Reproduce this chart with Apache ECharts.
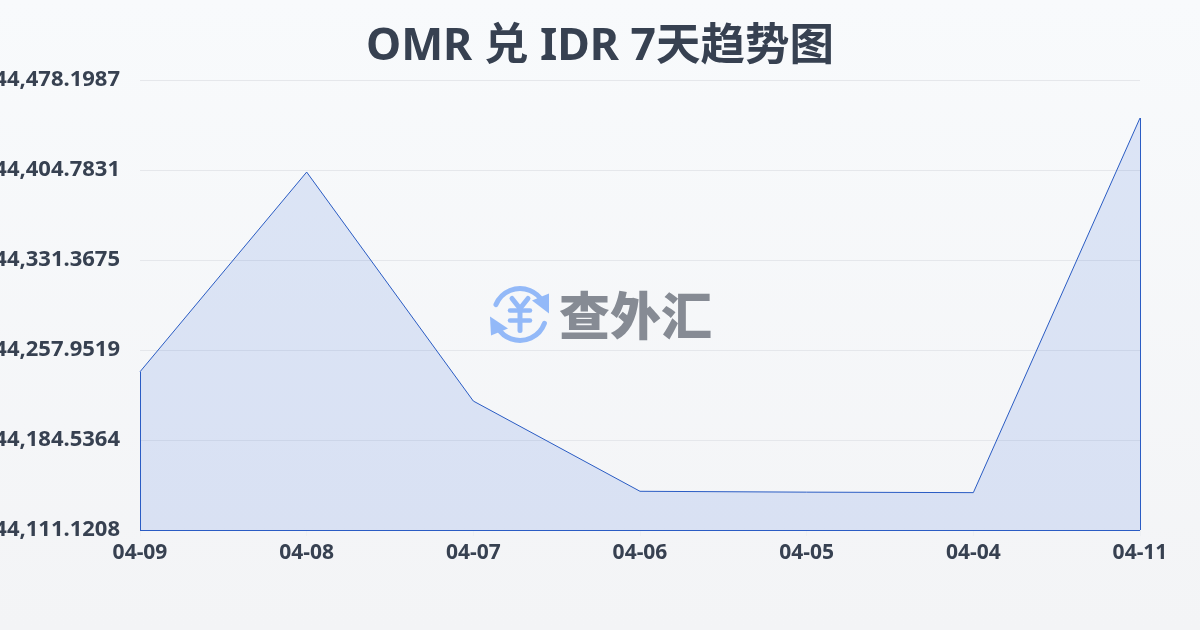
<!DOCTYPE html>
<html><head><meta charset="utf-8">
<style>html,body{margin:0;padding:0;background:#f5f7fa}#c{width:1200px;height:630px}</style>
<script src="https://cdn.jsdelivr.net/npm/echarts@6/dist/echarts.min.js"></script>
</head><body><div id="c"></div>
<script>
const categories = ['04-09','04-08','04-07','04-06','04-05','04-04','04-11'];
const rates = [44240.2, 44403.1, 44216.3, 44142.7, 44142.0, 44141.6, 44447.2];
const yTicks = [44111.1208, 44184.5364, 44257.9519, 44331.3675, 44404.7831, 44478.1987];
const titleText = 'OMR 兑 IDR 7天趋势图';
const brandText = '查外汇';
const FONT = '"Noto Sans","Noto Sans CJK SC",sans-serif';
const yMin = yTicks[0], yMax = yTicks[yTicks.length-1];
const chart = echarts.init(document.getElementById('c'), null, {renderer:'canvas'});
const blue = '#93b9f8';
chart.setOption({
  animation:false,
  backgroundColor:{type:'linear',x:0,y:0,x2:0,y2:1,colorStops:[{offset:0,color:'#f8fafc'},{offset:1,color:'#f3f4f6'}]},
  title:{text:titleText,left:'center',top:20,textStyle:{fontFamily:FONT,fontSize:44.5,fontWeight:'bold',color:'#374151'}},
  grid:{left:140,right:60,top:80,bottom:100,containLabel:false,outerBoundsMode:'none'},
  xAxis:{type:'category',boundaryGap:false,data:categories,
    axisLine:{show:false},
    axisTick:{show:true,length:6,lineStyle:{color:'#eef0f3'}},
    axisLabel:{fontFamily:FONT,fontSize:21,fontWeight:'bold',color:'#374151',margin:13,interval:0}},
  yAxis:{type:'value',min:yMin,max:yMax,
    axisLine:{show:false},
    axisTick:{show:false,customValues:yTicks},
    splitLine:{show:true,lineStyle:{color:'#e5e7eb',width:1}},
    axisLabel:{customValues:yTicks,fontFamily:FONT,fontSize:22,fontWeight:'bold',color:'#374151',margin:20,
      formatter:v=>v.toLocaleString('en-US',{minimumFractionDigits:4,maximumFractionDigits:4})}},
  graphic:{elements:[
    {type:'group',left:490,top:286,silent:true,z:50,children:[
      {type:'arc',shape:{cx:30,cy:29,r:26,startAngle:-2.75,endAngle:-0.55},style:{stroke:blue,lineWidth:5,fill:null,lineCap:'round'}},
      {type:'arc',shape:{cx:30,cy:29,r:26,startAngle:0.35,endAngle:2.6},style:{stroke:blue,lineWidth:5,fill:null,lineCap:'round'}},
      {type:'polygon',shape:{points:[[42,15],[59,8],[59,28]]},style:{fill:blue}},
      {type:'polygon',shape:{points:[[0,31],[18,43],[1,50]]},style:{fill:blue}},
      {type:'polyline',shape:{points:[[22,13],[30,23],[38,13]]},style:{stroke:blue,lineWidth:5,fill:null,lineCap:'round'}},
      {type:'line',shape:{x1:20,y1:25,x2:40,y2:25},style:{stroke:blue,lineWidth:4.5,lineCap:'round'}},
      {type:'line',shape:{x1:20,y1:35,x2:40,y2:35},style:{stroke:blue,lineWidth:4.5,lineCap:'round'}},
      {type:'line',shape:{x1:30,y1:24,x2:30,y2:45},style:{stroke:blue,lineWidth:5,lineCap:'round'}}
    ]},
    {type:'text',left:559,top:290,silent:true,z:50,style:{text:brandText,fill:'#868b94',font:'900 51px "Noto Sans CJK SC"'}}
  ]},
  series:[{type:'line',data:rates,showSymbol:false,symbol:'none',smooth:false,
    lineStyle:{color:'#2a5cc4',width:1},
    areaStyle:{color:'rgba(60,105,220,0.2)',origin:'start'},
    markLine:{silent:true,symbol:'none',label:{show:false},animation:false,
      lineStyle:{color:'#2a5cc4',width:1,type:'solid'},
      data:[
        [{coord:[categories[0],rates[0]]},{coord:[categories[0],yMin]}],
        [{coord:[categories[6],rates[6]]},{coord:[categories[6],yMin]}],
        [{coord:[categories[0],yMin]},{coord:[categories[6],yMin]}]
      ]}
  }]
});
</script></body></html>
